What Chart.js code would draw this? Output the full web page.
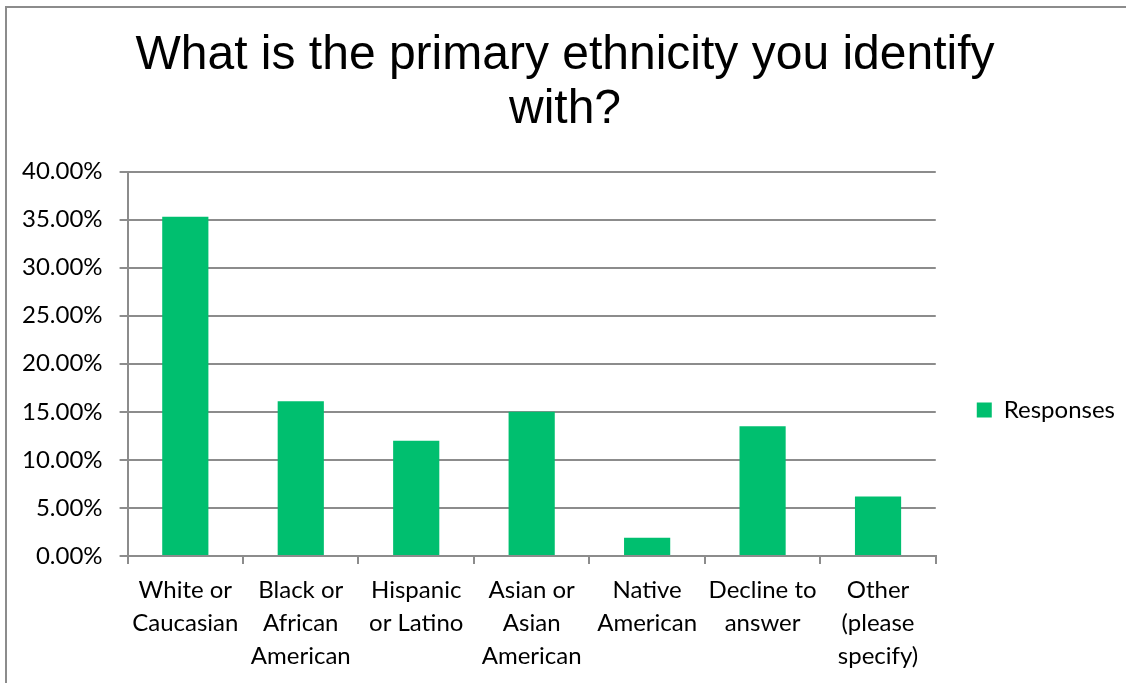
<!DOCTYPE html>
<html>
<head>
<meta charset="utf-8">
<script src="https://cdn.jsdelivr.net/npm/chart.js@4"></script>
<style>
    html, body {
        margin: 0;
        padding: 0;
        background: #ffffff;
    }

    .frame {
        position: absolute;
        left: 5px;
        top: 6px;
        width: 1200px;
        height: 800px;
        border-top: 2px solid #8c8c8c;
        border-left: 2px solid #8c8c8c;
    }

    .chart-wrap {
        position: absolute;
        left: 0;
        top: 0;
        width: 1126px;
        height: 683px;
    }
</style>
</head>
<body>
<div class="frame"></div>
<div class="chart-wrap">
    <canvas id="chart" width="1126" height="683"></canvas>
</div>
<script>
// Dane z wykresu
const categories = [
    ['White or', 'Caucasian'],
    ['Black or', 'African', 'American'],
    ['Hispanic', 'or Latino'],
    ['Asian or', 'Asian', 'American'],
    ['Native', 'American'],
    ['Decline to', 'answer'],
    ['Other', '(please', 'specify)'],
];
const responses = [35.3, 16.1, 12.0, 15.0, 1.9, 13.5, 6.2];
const seriesName = 'Responses';
const titleLines = ['What is the primary ethnicity you identify', 'with?'];

const green = '#00bf6f';
const gridColor = '#8c8c8c';
const labelFont = "Lato, 'Open Sans', sans-serif";

new Chart(document.getElementById('chart'), {
    type: 'bar',
    data: {
        labels: categories,
        datasets: [
            {
                label: seriesName,
                data: responses,
                backgroundColor: green,
                borderWidth: 0,
                barPercentage: 0.4,
                categoryPercentage: 1,
            },
        ],
    },
    options: {
        responsive: false,
        animation: false,
        layout: {
            padding: { left: 5, right: 1, top: 29, bottom: 0 },
        },
        plugins: {
            title: {
                display: true,
                text: titleLines,
                color: '#000',
                font: { family: "'Liberation Sans', Arial, sans-serif", size: 48, weight: 'normal', lineHeight: 1.12 },
                padding: { top: 0, bottom: 35 },
            },
            legend: {
                display: true,
                position: 'right',
                // pusty tytuł legendy tylko po to, żeby zepchnąć wpis niżej
                title: {
                    display: true,
                    text: ' ',
                    font: { size: 10, lineHeight: 1 },
                    padding: { top: 0, bottom: 98 },
                },
                labels: {
                    color: '#000',
                    boxWidth: 15,
                    boxHeight: 15,
                    padding: 10,
                    font: { family: labelFont, size: 24 },
                },
            },
            tooltip: { enabled: false },
        },
        scales: {
            x: {
                offset: true,
                grid: {
                    offset: true,
                    drawOnChartArea: false,
                    drawTicks: true,
                    tickLength: 8,
                    color: gridColor,
                    lineWidth: 2,
                },
                border: { color: gridColor, width: 2 },
                ticks: {
                    color: '#000',
                    maxRotation: 0,
                    autoSkip: false,
                    padding: 10,
                    font: { family: labelFont, size: 24, lineHeight: 1.375 },
                },
            },
            y: {
                min: 0,
                max: 40,
                grid: {
                    color: gridColor,
                    lineWidth: 2,
                    tickLength: 8,
                },
                border: { color: gridColor, width: 2 },
                ticks: {
                    stepSize: 5,
                    color: '#000',
                    padding: 17,
                    font: { family: labelFont, size: 24 },
                    callback: (v) => v.toFixed(2) + '%',
                },
            },
            // pusta oś po prawej - odstęp między wykresem a legendą
            gap: {
                type: 'linear',
                position: 'right',
                display: true,
                grid: { display: false },
                border: { display: false },
                ticks: { display: false },
                afterFit: (scale) => {
                    scale.width = 31;
                },
            },
        },
    },
});
</script>
</body>
</html>
